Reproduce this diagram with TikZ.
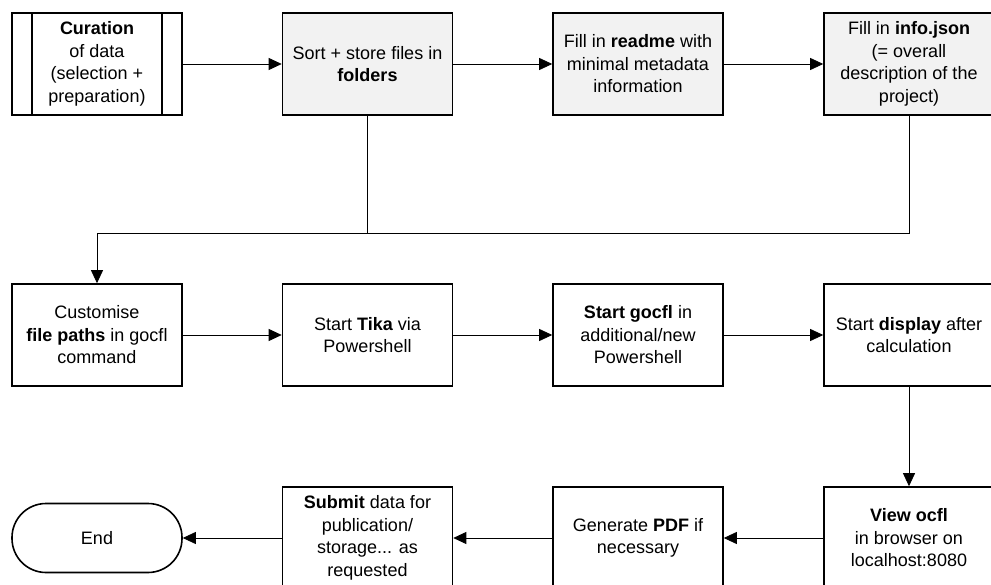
\documentclass[tikz,border=0pt]{standalone}
\usepackage{fontspec}
\setmainfont{Liberation Sans}
\usetikzlibrary{arrows.meta,calc,positioning}
\definecolor{BoxGray}{HTML}{F2F2F2}

\begin{document}
\begin{tikzpicture}[x=1pt,y=-1pt,
          font=\fontsize{18}{22.5}\selectfont,
          stepbox/.style={rectangle,draw=black,fill=white,line width=1.6pt,
                          minimum width=170pt,minimum height=102pt,
                          align=center,inner sep=2pt},
          graybox/.style={stepbox,fill=BoxGray},
          terminal/.style={rectangle,rounded corners=34pt,draw=black,fill=white,
                           line width=1.6pt,minimum width=170pt,minimum height=69pt},
          flow/.style={-{Triangle[length=13pt,width=12pt]},line width=0.8pt},
          plain/.style={line width=0.8pt}]
        \useasboundingbox (0,0) rectangle (991,585);
        % top row: preparation of the data
        \node[stepbox] (curation) at (97,64)
          {\textbf{Curation}\\of data\\(selection +\\preparation)};
        \draw[line width=1.6pt] ([xshift=21pt]curation.north west)
          -- ([xshift=21pt]curation.south west);
        \draw[line width=1.6pt] ([xshift=-21pt]curation.north east)
          -- ([xshift=-21pt]curation.south east);
        \node[graybox] (sortfiles) at (367.5,64)
          {Sort + store files in\\\textbf{folders}};
        \node[graybox] (readme) at (638,64)
          {Fill in \textbf{readme} with\\minimal metadata\\information};
        \node[graybox] (infojson) at (909,64)
          {Fill in \textbf{info.json}\\(= overall\\description of the\\project)};
        % middle row: running the tools
        \node[stepbox] (paths) at (97,335)
          {Customise\\\textbf{file paths} in gocfl\\command};
        \node[stepbox] (tika) at (367.5,335) {Start \textbf{Tika} via\\Powershell};
        \node[stepbox] (gocfl) at (638,335)
          {\textbf{Start gocfl} in\\additional/new\\Powershell};
        \node[stepbox] (display) at (909,335)
          {Start \textbf{display} after\\calculation};
        % bottom row runs right to left
        \node[stepbox] (view) at (909,538)
          {\textbf{View ocfl}\\in browser on\\localhost:8080};
        \node[stepbox] (pdf) at (638,538) {Generate \textbf{PDF} if\\necessary};
        \node[stepbox] (submit) at (367.5,538)
          {\textbf{Submit} data for\\publication/\\storage... as\\requested};
        \node[terminal] (finish) at (97,538) {End};
        \coordinate (merge) at (367.5,233);
        \draw[flow] (curation) -- (sortfiles);
        \draw[flow] (sortfiles) -- (readme);
        \draw[flow] (readme) -- (infojson);
        \draw[plain] (infojson) |- (merge);
        \draw[flow] (sortfiles) -- (merge) -| (paths);
        \draw[flow] (paths) -- (tika);
        \draw[flow] (tika) -- (gocfl);
        \draw[flow] (gocfl) -- (display);
        \draw[flow] (display) -- (view);
        \draw[flow] (view) -- (pdf);
        \draw[flow] (pdf) -- (submit);
        \draw[flow] (submit) -- (finish);
      \end{tikzpicture}
\end{document}
